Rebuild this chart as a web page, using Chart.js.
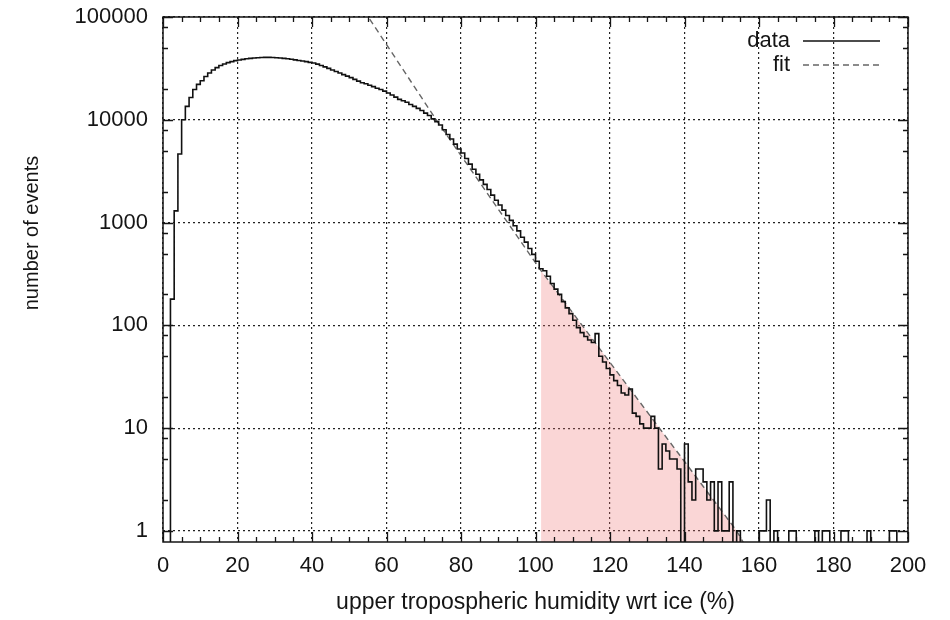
<!DOCTYPE html>
<html>
<head>
<meta charset="utf-8">
<script src="https://cdn.jsdelivr.net/npm/chart.js@4.4.1/dist/chart.umd.min.js"></script>
<style>
  html, body { margin: 0; padding: 0; background: #fff; }
  #wrap { width: 950px; height: 620px; }
</style>
</head>
<body>
<div id="wrap"><canvas id="chart-uth"></canvas></div>
<script>
// counts per 1 % bin, bin i covers [i, i+1)
const counts = [
  0, 0, 180, 1300, 4650, 10000, 13500, 16500, 19700, 22100,
  24000, 26400, 28500, 30500, 32200, 33700, 34900, 36000, 36800, 37600,
  38200, 38700, 39200, 39600, 39900, 40200, 40400, 40500, 40500, 40400,
  40200, 39900, 39600, 39200, 38800, 38300, 37800, 37300, 36800, 36200,
  35700, 34800, 33700, 32700, 31600, 30500, 29500, 28500, 27500, 26600,
  25700, 24700, 23800, 22900, 22400, 21700, 21000, 20300, 19700, 19000,
  18200, 17400, 16600, 15800, 15300, 14800, 14100, 13500, 12900, 12300,
  11600, 11000, 10200, 9600, 8900, 8000, 7200, 6500, 5800, 5200,
  4750, 4200, 3700, 3300, 2950, 2600, 2350, 2100, 1850, 1650,
  1480, 1320, 1170, 1050, 930, 830, 720, 645, 560, 490,
  420, 355, 340, 300, 255, 225, 200, 170, 148, 130,
  112, 95, 85, 78, 72, 68, 83, 50, 44, 38,
  33, 29, 26, 22, 21, 24, 14, 13, 11, 10,
  10, 13, 10, 4, 7, 6, 5, 5, 4, 0,
  7, 3, 2, 4, 4, 3, 2, 3, 1, 3,
  1, 1, 3, 0, 1, 0, 0, 0, 0, 0,
  1, 1, 2, 0, 1, 0, 0, 0, 1, 1,
  0, 0, 0, 0, 0, 1, 0, 1, 1, 0,
  0, 0, 1, 1, 0, 0, 0, 0, 0, 1,
  0, 0, 0, 0, 0, 1, 1, 0, 0, 0
]

// fit curve
const fitX = [54, 60, 73.5, 101.5, 154, 156]
const fitY = [115000, 54000, 9800, 340, 1, 0.75]
const shadeFrom = 101.5

const xTicks = [0, 20, 40, 60, 80, 100, 120, 140, 160, 180, 200]
const yTicks = [1, 10, 100, 1000, 10000, 100000]
const yMinorSteps = [2, 5, 8]

const legendLabels = ['data', 'fit']
const xTitle = 'upper tropospheric humidity wrt ice (%)'
const yTitle = 'number of events'

const FONT = "'Liberation Sans', Arial, sans-serif"
const ink = '#151515'
const zeroFloor = 0.3  // empty bins drop below the axis

const histPoints = counts.map((c, i) => ({ x: i, y: c > 0 ? c : zeroFloor }))
histPoints.push({ x: counts.length, y: counts[counts.length - 1] || zeroFloor })

const fitPoints = fitX.map((x, i) => ({ x, y: fitY[i] }))
const shadePoints = fitPoints.filter(p => p.x >= shadeFrom)

const frame = {
  id: 'frame',
  afterDraw(chart) {
    const { ctx, chartArea: a } = chart
    const xs = chart.scales.x
    const ys = chart.scales.y
    ctx.save()
    ctx.strokeStyle = ink
    ctx.lineWidth = 1.5
    ctx.setLineDash([])
    ctx.strokeRect(a.left, a.top, a.right - a.left, a.bottom - a.top)

    ctx.lineWidth = 1.3
    ctx.beginPath()
    for (let v = 0; v <= 200; v += 5) {
      const px = Math.round(xs.getPixelForValue(v)) + 0.5
      const len = v % 20 === 0 ? 10 : 5
      ctx.moveTo(px, a.bottom); ctx.lineTo(px, a.bottom - len)
      ctx.moveTo(px, a.top); ctx.lineTo(px, a.top + len)
    }
    yTicks.forEach(d => {
      [1].concat(yMinorSteps).forEach(m => {
        const v = d * m
        if (v > ys.max) return
        const py = Math.round(ys.getPixelForValue(v)) + 0.5
        const len = m === 1 ? 10 : 5
        ctx.moveTo(a.left, py); ctx.lineTo(a.left + len, py)
        ctx.moveTo(a.right, py); ctx.lineTo(a.right - len, py)
      })
    })
    ctx.stroke()

    // key, gnuplot style: label then sample
    const sets = chart.data.datasets
    ctx.font = '22px ' + FONT
    ctx.fillStyle = ink
    ctx.textAlign = 'right'
    ctx.textBaseline = 'middle'
    legendLabels.forEach((lab, i) => {
      const ds = sets[i]
      const y = 41 + i * 24
      ctx.fillText(lab, 790, y)
      ctx.strokeStyle = ds.borderColor
      ctx.lineWidth = ds.borderWidth
      ctx.setLineDash(ds.borderDash || [])
      ctx.beginPath()
      ctx.moveTo(803, y)
      ctx.lineTo(880, y)
      ctx.stroke()
    })

    ctx.setLineDash([])
    ctx.font = '20px ' + FONT
    ctx.textAlign = 'center'
    ctx.translate(32, 233)
    ctx.rotate(-Math.PI / 2)
    ctx.fillText(yTitle, 0, 0)
    ctx.restore()
  }
}

const ctxUth = document.getElementById('chart-uth').getContext('2d')

new Chart(ctxUth, {
  type: 'line',
  data: {
    datasets: [
      {
        label: legendLabels[0],
        data: histPoints,
        stepped: true,
        borderColor: '#111',
        borderWidth: 1.6,
        pointRadius: 0,
        fill: false,
        clip: 0,
        order: 1
      },
      {
        label: legendLabels[1],
        data: fitPoints,
        borderColor: '#666',
        borderWidth: 1.4,
        borderDash: [6, 4],
        pointRadius: 0,
        fill: false,
        clip: 0,
        order: 2
      },
      {
        label: 'shade',
        data: shadePoints,
        borderWidth: 0,
        borderColor: 'rgba(0,0,0,0)',
        backgroundColor: 'rgba(240,120,120,0.3)',
        pointRadius: 0,
        fill: 'start',
        clip: 0,
        order: 3
      }
    ]
  },
  options: {
    responsive: true,
    maintainAspectRatio: false,
    animation: false,
    devicePixelRatio: 1,
    layout: { padding: { top: 17, right: 42, left: 0, bottom: 0 } },
    plugins: {
      legend: { display: false },
      tooltip: { enabled: false }
    },
    scales: {
      x: {
        type: 'linear',
        min: 0,
        max: 200,
        afterBuildTicks: s => { s.ticks = xTicks.map(v => ({ value: v })) },
        afterFit: s => {
          s.height = 78
          s.paddingLeft = 0
          s.paddingRight = 0
        },
        ticks: {
          color: ink,
          padding: 11,
          font: { family: FONT, size: 22 }
        },
        grid: { color: '#222', lineWidth: 1.2, drawTicks: false },
        border: { display: false, dash: [2, 3] },
        title: {
          display: true,
          text: xTitle,
          color: ink,
          font: { family: FONT, size: 23 },
          padding: { top: 4, bottom: 4 }
        }
      },
      y: {
        type: 'logarithmic',
        min: 0.78,
        max: 100000,
        afterBuildTicks: s => { s.ticks = yTicks.map(v => ({ value: v })) },
        afterFit: s => {
          s.width = 163
          s.paddingTop = 0
          s.paddingBottom = 0
        },
        ticks: {
          color: ink,
          padding: 15,
          font: { family: FONT, size: 22 },
          callback: v => String(v)
        },
        grid: { color: '#222', lineWidth: 1.2, drawTicks: false },
        border: { display: false, dash: [2, 3] }
      }
    }
  },
  plugins: [frame]
})
</script>
</body>
</html>
